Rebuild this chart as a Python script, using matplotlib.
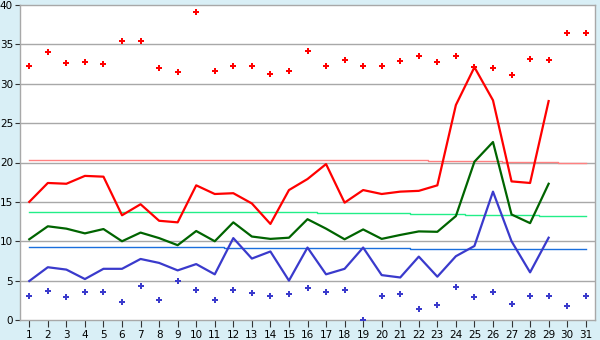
import matplotlib
matplotlib.use("Agg")
import matplotlib.pyplot as plt
import numpy as np

days = np.arange(1, 32)

# daily max readings (points)
max_pts = [32.2, 34.0, 32.6, 32.7, 32.5, 35.4, 35.4, 32.0, 31.5, 39.1,
           31.6, 32.2, 32.2, 31.2, 31.6, 34.1, 32.2, 33.0, 32.2, 32.2,
           32.85, 33.5, 32.7, 33.5, 32.1, 32.0, 31.1, 33.2, 33.0, 36.5, 36.5]
# daily min readings (points)
min_pts = [3.0, 3.65, 2.9, 3.5, 3.5, 2.25, 4.3, 2.5, 5.0, 3.8,
           2.5, 3.8, 3.4, 3.0, 3.25, 4.05, 3.5, 3.8, 0.0, 3.0,
           3.25, 1.35, 1.85, 4.15, 2.9, 3.5, 2.0, 3.0, 3.0, 1.75, 3.0]

# lines (days 1-29)
red_line = [15.0, 17.4, 17.3, 18.3, 18.2, 13.3, 14.7, 12.6, 12.4, 17.1,
            16.0, 16.1, 14.8, 12.2, 16.5, 17.9, 19.8, 14.9, 16.5, 16.0,
            16.3, 16.4, 17.1, 27.3, 32.1, 27.9, 17.6, 17.4, 27.8]
green_line = [10.25, 11.9, 11.6, 11.0, 11.55, 10.0, 11.1, 10.4, 9.5, 11.3,
              10.0, 12.4, 10.6, 10.3, 10.45, 12.8, 11.6, 10.25, 11.5, 10.3,
              10.8, 11.25, 11.2, 13.2, 20.1, 22.6, 13.4, 12.3, 17.3]
blue_line = [4.95, 6.7, 6.4, 5.2, 6.5, 6.5, 7.75, 7.25, 6.3, 7.1,
             5.8, 10.4, 7.8, 8.7, 5.0, 9.2, 5.8, 6.5, 9.2, 5.7,
             5.4, 8.05, 5.5, 8.1, 9.4, 16.3, 10.0, 6.05, 10.45]

# long-term reference levels per day
red_ref = [20.3] * 22 + [20.15] * 4 + [20.1] * 3 + [19.95] * 2
green_ref = [13.7] * 16 + [13.6] * 5 + [13.45] * 3 + [13.3] * 4 + [13.15] * 3
blue_ref = [9.23] * 11 + [9.1] * 10 + [9.0] * 10

fig = plt.figure(figsize=(6, 3.4), dpi=100)
fig.patch.set_facecolor('#d9eff6')
ax = fig.add_axes([20/600, 1 - 320/340, 575/600, 315/340])
ax.set_facecolor('white')

for y in range(5, 40, 5):
    ax.axhline(y, color='#a8a8a8', lw=1.0, zorder=1)

ax.step(days, red_ref, where='mid', color='#ff8080', lw=1.0, zorder=2)
ax.step(days, green_ref, where='mid', color='#22ee88', lw=1.0, zorder=2)
ax.step(days, blue_ref, where='mid', color='#1a6fdd', lw=1.0, zorder=2)

d29 = days[:len(red_line)]
ax.plot(d29, red_line, color='#ff0000', lw=1.6, zorder=3)
ax.plot(d29, green_line, color='#006400', lw=1.6, zorder=3)
ax.plot(d29, blue_line, color='#3a3acc', lw=1.6, zorder=3)

ax.plot(days, max_pts, 'P', color='#ff0000', ms=5, mew=0, ls='none', zorder=4)
ax.plot(days, min_pts, 'P', color='#3a3acc', ms=5, mew=0, ls='none', zorder=4)

ax.set_xlim(0.5, 31.5)
ax.set_ylim(0, 40)
ax.set_xticks(days)
ax.set_yticks(range(0, 41, 5))
ax.tick_params(axis='x', labelsize=7.5, length=5, color='#333333', pad=2)
ax.tick_params(axis='y', labelsize=7.5, length=3.5, color='#333333', pad=1.5)
for s in ax.spines.values():
    s.set_color('#a8a8a8')
    s.set_linewidth(1.0)

fig.savefig('out.png', dpi=100, facecolor=fig.get_facecolor())
